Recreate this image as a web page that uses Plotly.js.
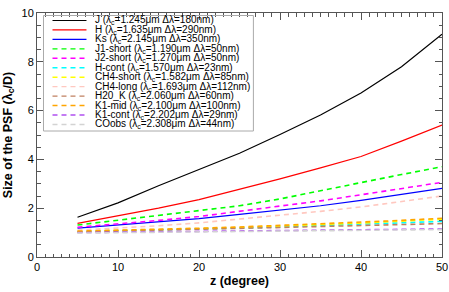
<!DOCTYPE html>
<html><head><meta charset="utf-8">
<script src="https://cdn.plot.ly/plotly-3.0.1.min.js"></script>
<style>html,body{margin:0;padding:0;background:#fff}#plot{width:449px;height:292px}</style>
</head><body><div id="plot"></div>
<script>
const zenith = [5, 10, 15, 20, 25, 30, 35, 40, 45, 50];
const seriesNames = ["J","H","Ks","J1-short","J2-short","H-cont","CH4-short","CH4-long","H20_K","K1-mid","K1-cont","COobs"];
const lambdaC = ["1.245","1.635","2.145","1.190","1.270","1.570","1.582","1.693","2.060","2.100","2.202","2.308"];
const deltaLambda = ["180","290","350","50","50","23","85","112","60","100","29","44"];
const J        = [1.63, 2.22, 2.92, 3.6, 4.25, 5.02, 5.82, 6.72, 7.8, 9.13];
const H        = [1.38, 1.68, 2.0, 2.35, 2.76, 3.2, 3.65, 4.12, 4.75, 5.41];
const Ks       = [1.18, 1.3, 1.42, 1.57, 1.75, 1.92, 2.1, 2.32, 2.55, 2.81];
const J1short  = [1.31, 1.5, 1.7, 1.9, 2.1, 2.38, 2.7, 3.05, 3.38, 3.7];
const J2short  = [1.22, 1.35, 1.5, 1.66, 1.87, 2.08, 2.3, 2.55, 2.8, 3.06];
const Hcont    = [1.04, 1.07, 1.1, 1.14, 1.19, 1.23, 1.28, 1.33, 1.39, 1.46];
const CH4short = [1.05, 1.08, 1.12, 1.16, 1.21, 1.26, 1.32, 1.39, 1.47, 1.55];
const CH4long  = [1.1, 1.18, 1.28, 1.4, 1.55, 1.7, 1.87, 2.05, 2.27, 2.5];
const H20K     = [1.03, 1.06, 1.09, 1.13, 1.17, 1.21, 1.25, 1.29, 1.33, 1.37];
const K1mid    = [1.06, 1.09, 1.13, 1.18, 1.23, 1.29, 1.35, 1.42, 1.5, 1.59];
const K1cont   = [1.0, 1.02, 1.04, 1.06, 1.08, 1.1, 1.11, 1.12, 1.13, 1.15];
const COobs    = [0.98, 1.0, 1.02, 1.04, 1.06, 1.07, 1.08, 1.1, 1.11, 1.12];

const allValues = [J,H,Ks,J1short,J2short,Hcont,CH4short,CH4long,H20K,K1mid,K1cont,COobs];
const colors = ["#000000","#ff0000","#0000ff","#00ff00","#ff00ff","#00ffff","#ffff00","#ffc8c0","#c08060","#ffa500","#b050f0","#d3d3d3"];
const dashed = [false,false,false,true,true,true,true,true,true,true,true,true];
const dashStyle = "5px,4px";

const traces = allValues.map((v,i)=>({
  x: zenith, y: v, type:'scatter', mode:'lines', name: seriesNames[i], showlegend:false,
  line:{color:colors[i], width: dashed[i]?1.6:1.2, dash: dashed[i]?dashStyle:'solid'}
}));

const font = "Liberation Sans, Arial, Helvetica, sans-serif";
const W=449,H_=292, ml=36.5, mr=7.3, mt=13, mb=35;
const pw=W-ml-mr, ph=H_-mt-mb;
const px = x => (x-ml)/pw;
const py = y => 1-(y-mt)/ph;

const shapes=[], annotations=[];
shapes.push({type:'rect', xref:'paper', yref:'paper', x0:px(43), x1:px(253), y0:py(131), y1:py(15.5),
  line:{color:'#aaaaaa', width:1}, fillcolor:'rgba(255,255,255,0)'});
const rowY0=20.5, rowStep=9.45;
seriesNames.forEach((n,i)=>{
  const yy=rowY0+i*rowStep;
  shapes.push({type:'line', xref:'paper', yref:'paper', x0:px(52), x1:px(86), y0:py(yy), y1:py(yy),
    line:{color:colors[i], width: dashed[i]?1.4:1.2, dash: dashed[i]?dashStyle:'solid'}});
  annotations.push({xref:'paper', yref:'paper', x:px(93), y:py(yy), xanchor:'left', yanchor:'middle', showarrow:false,
    text: n+' (λ<sub>c</sub>='+lambdaC[i]+'μm Δλ='+deltaLambda[i]+'nm)', font:{family:font, size:10, color:'#000'}});
});

const axisCommon = {
  showgrid:false, zeroline:false, showline:true, linecolor:'#555', linewidth:1, mirror:'ticks',
  ticks:'inside', ticklen:7, tickcolor:'#555', tickwidth:1,
  tickfont:{family:font, size:11, color:'#000'}
};
const layout = {
  width:W, height:H_, margin:{l:ml, r:mr, t:mt, b:mb, pad:0},
  paper_bgcolor:'#fff', plot_bgcolor:'#fff', showlegend:false,
  xaxis: Object.assign({}, axisCommon, {range:[0,50], tick0:0, dtick:10,
    minor:{ticks:'inside', ticklen:3.5, dtick:1, tickcolor:'#555', showgrid:false},
    title:{text:'<b>z (degree)</b>', font:{family:font, size:12.5, color:'#000'}, standoff:4}}),
  yaxis: Object.assign({}, axisCommon, {range:[0,10], tick0:0, dtick:2,
    minor:{ticks:'inside', ticklen:3.5, dtick:0.5, tickcolor:'#555', showgrid:false},
    title:{text:'<b>Size of the PSF (λ<sub>c</sub>/D)</b>', font:{family:font, size:12.5, color:'#000'}, standoff:6}}),
  shapes, annotations
};
Plotly.newPlot('plot', traces, layout, {staticPlot:true, displayModeBar:false});
</script></body></html>
